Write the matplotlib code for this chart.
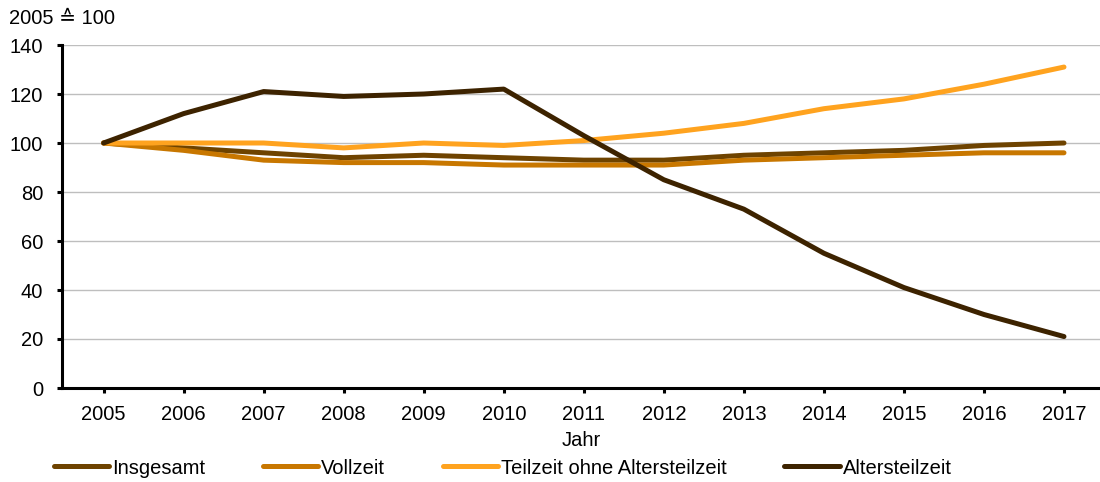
import matplotlib
matplotlib.use("Agg")
import matplotlib.pyplot as plt
import numpy as np

plt.rcParams['font.family'] = ['Liberation Sans', 'DejaVu Sans']

years = ["2005", "2006", "2007", "2008", "2009", "2010", "2011", "2012", "2013", "2014", "2015", "2016", "2017"]
insgesamt = [100, 98, 96, 94, 95, 94, 93, 93, 95, 96, 97, 99, 100]
vollzeit = [100, 97, 93, 92, 92, 91, 91, 91, 93, 94, 95, 96, 96]
teilzeit = [100, 100, 100, 98, 100, 99, 101, 104, 108, 114, 118, 124, 131]
altersteilzeit = [100, 112, 121, 119, 120, 122, 103, 85, 73, 55, 41, 30, 21]
series_names = ["Insgesamt", "Vollzeit", "Teilzeit ohne Altersteilzeit", "Altersteilzeit"]
colors = ["#6E4300", "#C87700", "#FFA31F", "#3D2300"]

FS = 14.5

fig = plt.figure(figsize=(11, 4.82), dpi=100)
ax = fig.add_axes([62/1100, 1 - 388/482, 1 - 62/1100, (388 - 45)/482])

x = np.arange(len(years))
for vals, name, c in zip([insgesamt, vollzeit, teilzeit, altersteilzeit], series_names, colors):
    ax.plot(x, vals, color=c, lw=3.6, label=name, solid_capstyle='round', solid_joinstyle='round')

ax.set_xlim(-0.52, 12.45)
ax.set_ylim(0, 140)
ax.set_yticks(range(0, 141, 20))
ax.set_xticks(x)
ax.set_xticklabels(years)
ax.grid(axis='y', color='#BEBEBE', lw=1)
ax.set_axisbelow(True)
for s in ['top', 'right']:
    ax.spines[s].set_visible(False)
ax.spines['left'].set_linewidth(2.2)
ax.spines['bottom'].set_linewidth(2.2)
ax.tick_params(axis='both', labelsize=FS, width=2.2, length=3.5, color='black')
ax.tick_params(axis='x', pad=9)
ax.tick_params(axis='y', pad=10)
ax.set_xlabel("Jahr", fontsize=FS, labelpad=5)

fig.text(9/1100, 1 - 18/482, "2005 \u2259 100", fontsize=FS, va='center', ha='left')

fig.legend(loc='center', bbox_to_anchor=(0.457, 1 - 468/482), ncol=4, frameon=False,
           fontsize=FS, handlelength=2.75, handletextpad=0.15, columnspacing=2.85)

fig.savefig("out.png", dpi=100)
